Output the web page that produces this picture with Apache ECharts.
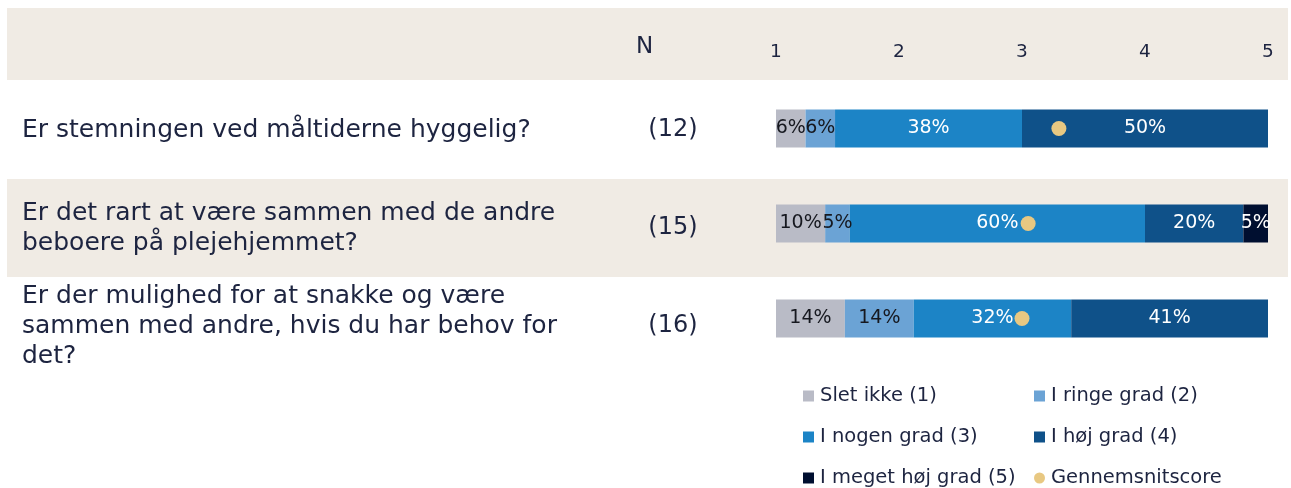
<!DOCTYPE html>
<html>
<head>
<meta charset="utf-8">
<script src="https://cdn.jsdelivr.net/npm/echarts@6/dist/echarts.min.js"></script>
<style>
  html, body { margin: 0; padding: 0; background: #ffffff; }
  #chart { width: 1291px; height: 488px; }
</style>
</head>
<body>
<div id="chart"></div>
<script>
// Survey questions (rows, top to bottom) and respondent counts
const questions = [
  'Er stemningen ved måltiderne hyggelig?',
  'Er det rart at være sammen med de andre\nbeboere på plejehjemmet?',
  'Er der mulighed for at snakke og være\nsammen med andre, hvis du har behov for\ndet?'
];
const counts = ['(12)', '(15)', '(16)'];

// Answer categories and their share (%) per question
const categories = ['Slet ikke (1)', 'I ringe grad (2)', 'I nogen grad (3)', 'I høj grad (4)', 'I meget høj grad (5)'];
const sletIkke       = [6, 10, 14];
const iRingeGrad     = [6, 5, 14];
const iNogenGrad     = [38, 60, 32];
const iHoejGrad      = [50, 20, 41];
const iMegetHoejGrad = [0, 5, 0];

// Average score on the 1–5 scale
const meanLabel = 'Gennemsnitscore';
const meanScore = [3.30, 3.05, 3.00];

const scaleTicks = [1, 2, 3, 4, 5];

const colors = ['#b9bbc6', '#6ba3d5', '#1c84c6', '#0f5189', '#000f30'];
const labelColors = ['#16181f', '#16181f', '#ffffff', '#ffffff', '#ffffff'];
const textColor = '#1d2440';
const bandColor = '#f0ebe4';
const font = 'DejaVu Sans';

const shares = [sletIkke, iRingeGrad, iNogenGrad, iHoejGrad, iMegetHoejGrad];

const barSeries = categories.map((name, i) => ({
  name: name,
  type: 'bar',
  stack: 'share',
  xAxisIndex: 1,
  yAxisIndex: 0,
  barWidth: 38,
  itemStyle: { color: colors[i] },
  label: {
    show: true,
    position: 'inside',
    color: labelColors[i],
    fontFamily: font,
    fontSize: 19,
    formatter: p => (p.value > 0 ? p.value + '%' : '')
  },
  data: shares[i]
}));

const meanSeries = {
  name: meanLabel,
  type: 'scatter',
  xAxisIndex: 0,
  yAxisIndex: 0,
  symbol: 'circle',
  symbolSize: 15,
  itemStyle: { color: '#e8c882', opacity: 1 },
  z: 10,
  data: meanScore.map((v, i) => [v, i])
};

const legendPos = [
  [803, 386], [1034, 386],
  [803, 427], [1034, 427],
  [803, 468], [1034, 468]
];
const legendNames = categories.concat([meanLabel]);
const legends = legendNames.map((name, i) => ({
  data: [{ name: name, icon: i === 5 ? 'circle' : 'rect' }],
  left: legendPos[i][0],
  top: legendPos[i][1],
  itemWidth: 11,
  itemHeight: 11,
  itemGap: 0,
  padding: 0,
  textStyle: { color: textColor, fontFamily: font, fontSize: 19.5, padding: [0, 0, 0, 1] }
}));

const chart = echarts.init(document.getElementById('chart'), null, { renderer: 'canvas' });
chart.setOption({
  backgroundColor: '#ffffff',
  animation: false,
  title: {
    text: 'N',
    left: 631,
    top: 31,
    textStyle: { color: textColor, fontFamily: font, fontSize: 23, fontWeight: 'normal' }
  },
  graphic: [
    { type: 'rect', z: -10, shape: { x: 7, y: 8, width: 1281, height: 72 }, style: { fill: bandColor } }
  ],
  legend: legends,
  grid: [
    // bars and scale
    { left: 776, right: 23, top: 81, height: 285 },
    // question rows with alternating band
    { left: 7, right: 3, top: 81, height: 294 }
  ],
  xAxis: [
    {
      type: 'value',
      gridIndex: 0,
      position: 'top',
      min: 1,
      max: 5,
      interval: 1,
      axisLine: { show: false },
      axisTick: { show: false },
      splitLine: { show: false },
      axisLabel: {
        color: textColor, fontFamily: font, fontSize: 18.5, margin: 19,
        formatter: v => (scaleTicks.includes(v) ? String(v) : '')
      }
    },
    { type: 'value', gridIndex: 0, min: 0, max: 100, show: false },
    { type: 'value', gridIndex: 1, show: false }
  ],
  yAxis: [
    {
      type: 'category',
      gridIndex: 0,
      inverse: true,
      data: questions,
      show: false
    },
    {
      type: 'category',
      gridIndex: 1,
      position: 'left',
      inverse: true,
      data: questions,
      axisLine: { show: false },
      axisTick: { show: false },
      splitArea: { show: true, areaStyle: { color: ['rgba(0,0,0,0)', bandColor] } },
      axisLabel: {
        inside: true,
        align: 'left',
        margin: 15,
        color: textColor,
        fontFamily: font,
        fontSize: 25,
        lineHeight: 30,
        padding: [4, 0, 0, 0]
      },
      z: -5
    },
    {
      type: 'category',
      gridIndex: 1,
      position: 'left',
      inverse: true,
      data: counts,
      axisLine: { show: false },
      axisTick: { show: false },
      axisLabel: {
        inside: true,
        align: 'center',
        margin: 666,
        color: textColor,
        fontFamily: font,
        fontSize: 24,
        padding: [4, 0, 0, 0]
      }
    }
  ],
  series: barSeries.concat([meanSeries])
});
</script>
</body>
</html>
